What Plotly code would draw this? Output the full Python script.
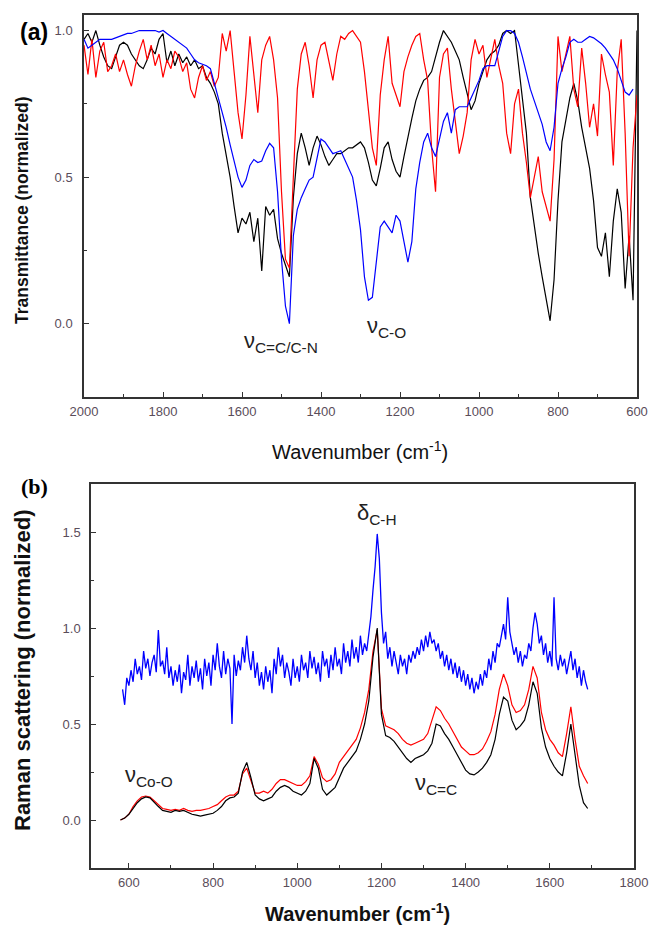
import plotly.graph_objects as go

# ---------------- Panel (a): FTIR, wavenumber grid 2000 -> 600 step 10 ----------------
IR_BLUE = [
    0.97, 0.94, 0.95, 0.96, 0.97, 0.97, 0.97, 0.97, 0.975, 0.98,   # 2000-1910
    0.985, 0.99, 0.99, 0.995, 1.0, 1.0, 1.0, 1.0, 1.0, 0.995,     # 1900-1810
    1.0, 0.99, 0.98, 0.97, 0.96, 0.95, 0.94, 0.92, 0.90, 0.89,    # 1800-1710
    0.885, 0.88, 0.87, 0.82, 0.77, 0.72, 0.67, 0.61, 0.55, 0.50,  # 1700-1610
    0.465, 0.49, 0.54, 0.56, 0.55, 0.555, 0.59, 0.615, 0.60, 0.45,  # 1600-1510
    0.22, 0.06, 0.0, 0.30, 0.39, 0.43, 0.46, 0.49, 0.50, 0.56,    # 1500-1410
    0.63, 0.62, 0.60, 0.58, 0.585, 0.59, 0.56, 0.53, 0.50, 0.42,  # 1400-1310
    0.32, 0.16, 0.08, 0.09, 0.22, 0.33, 0.35, 0.33, 0.31, 0.37,   # 1300-1210
    0.35, 0.28, 0.21, 0.28, 0.46, 0.55, 0.62, 0.65, 0.60, 0.57,   # 1200-1110
    0.63, 0.69, 0.72, 0.65, 0.73, 0.74, 0.74, 0.74, 0.77, 0.80,   # 1100-1010
    0.83, 0.87, 0.88, 0.88, 0.88, 0.93, 0.98, 1.0, 1.0, 0.99,     # 1000-910
    0.96, 0.91, 0.85, 0.80, 0.76, 0.72, 0.68, 0.62, 0.59, 0.67,   # 900-810
    0.82, 0.87, 0.91, 0.96, 0.97, 0.96, 0.96, 0.97, 0.98, 0.975,  # 800-710
    0.965, 0.955, 0.94, 0.92, 0.90, 0.87, 0.83, 0.79, 0.78, 0.80, # 700-610
]
IR_BLACK = [
    0.97, 0.99, 0.96, 1.0, 0.95, 0.91, 0.88, 0.87, 0.91, 0.95,    # 2000-1910
    0.96, 0.95, 0.92, 0.90, 0.88, 0.87, 0.90, 0.94, 0.92, 0.97,   # 1900-1810
    0.99, 0.89, 0.93, 0.88, 0.92, 0.89, 0.91, 0.88, 0.90, 0.87,   # 1800-1710
    0.88, 0.84, 0.82, 0.79, 0.75, 0.65, 0.57, 0.50, 0.40, 0.31,   # 1700-1610
    0.36, 0.34, 0.38, 0.28, 0.36, 0.18, 0.40, 0.37, 0.39, 0.29,   # 1600-1510
    0.24, 0.20, 0.16, 0.43, 0.58, 0.65, 0.60, 0.54, 0.60, 0.64,   # 1500-1410
    0.61, 0.57, 0.54, 0.56, 0.58, 0.58, 0.59, 0.60, 0.60, 0.61,   # 1400-1310
    0.62, 0.60, 0.55, 0.49, 0.47, 0.53, 0.60, 0.62, 0.56, 0.52,   # 1300-1210
    0.50, 0.57, 0.64, 0.70, 0.76, 0.80, 0.83, 0.84, 0.86, 0.91,   # 1200-1110
    0.96, 1.0, 0.98, 0.96, 0.93, 0.90, 0.84, 0.78, 0.73, 0.76,    # 1100-1010
    0.82, 0.86, 0.90, 0.92, 0.93, 0.95, 0.99, 1.0, 0.99, 1.0,     # 1000-910
    0.88, 0.78, 0.65, 0.43, 0.33, 0.24, 0.16, 0.08, 0.01, 0.15,   # 900-810
    0.42, 0.62, 0.70, 0.77, 0.82, 0.76, 0.67, 0.60, 0.53, 0.42,   # 800-710
    0.26, 0.23, 0.31, 0.16, 0.35, 0.46, 0.38, 0.12, 0.30, 0.08,   # 700-610
    1.0,                                                          # 600
]
IR_RED = [
    0.95, 0.85, 0.97, 0.84, 0.93, 0.96, 0.86, 0.88, 0.92, 0.86,   # 2000-1910
    0.90, 0.85, 0.81, 0.88, 0.93, 0.97, 0.90, 0.95, 0.88, 0.92,   # 1900-1810
    0.84, 0.90, 0.87, 0.93, 0.91, 0.86, 0.89, 0.80, 0.77, 0.84,   # 1800-1710
    0.88, 0.83, 0.86, 0.81, 0.84, 0.99, 0.93, 1.0, 0.86, 0.72,    # 1700-1610
    0.63, 0.78, 0.98, 0.85, 0.72, 0.90, 0.95, 0.98, 0.90, 0.77,   # 1600-1510
    0.45, 0.22, 0.19, 0.50, 0.80, 0.92, 0.96, 0.88, 0.77, 0.90,   # 1500-1410
    0.95, 0.96, 0.90, 0.83, 0.92, 0.98, 0.97, 0.99, 1.0, 0.98,    # 1400-1310
    0.96, 0.86, 0.72, 0.60, 0.54, 0.78, 0.90, 0.98, 0.82, 0.78,   # 1300-1210
    0.74, 0.86, 0.91, 0.95, 0.98, 0.99, 0.90, 0.83, 0.60, 0.45,   # 1200-1110
    0.84, 0.92, 0.94, 0.80, 0.68, 0.58, 0.64, 0.72, 0.90, 0.97,   # 1100-1010
    0.92, 0.95, 0.84, 0.90, 0.97, 0.88, 0.82, 0.65, 0.58, 0.75,   # 1000-910
    0.80, 0.65, 0.55, 0.43, 0.50, 0.57, 0.45, 0.40, 0.35, 0.56,   # 900-810
    0.98, 0.86, 0.92, 0.98, 0.80, 0.74, 0.94, 0.82, 0.67, 0.75,   # 800-710
    0.64, 0.92, 0.85, 0.79, 0.54, 0.86, 0.97, 0.65, 0.23, 0.60,   # 700-610
    0.78,                                                         # 600
]
IR_WN_BLUE = [2000 - 10 * i for i in range(len(IR_BLUE))]
IR_WN_BLACK = [2000 - 10 * i for i in range(len(IR_BLACK))]
IR_WN_RED = [2000 - 10 * i for i in range(len(IR_RED))]

# ---------------- Panel (b): Raman, grid 580 -> 1690 step 10 (black/red), 585 -> 1690 step 5 (blue) ----------------
RAMAN_BLACK = [
    0.0, 0.01, 0.03, 0.06, 0.09, 0.11, 0.12, 0.115, 0.09, 0.07,       # 580-670
    0.05, 0.045, 0.04, 0.05, 0.045, 0.05, 0.04, 0.03, 0.025, 0.02,    # 680-770
    0.025, 0.03, 0.035, 0.05, 0.07, 0.10, 0.115, 0.12, 0.14, 0.25,    # 780-870
    0.30, 0.22, 0.13, 0.11, 0.10, 0.11, 0.12, 0.15, 0.17, 0.18,       # 880-970
    0.17, 0.15, 0.14, 0.13, 0.15, 0.19, 0.32, 0.27, 0.16, 0.13,       # 980-1070
    0.15, 0.17, 0.22, 0.27, 0.30, 0.33, 0.36, 0.42, 0.50, 0.62,       # 1080-1170
    0.85, 1.0, 0.55, 0.44, 0.43, 0.41, 0.38, 0.35, 0.32, 0.30,        # 1180-1270
    0.32, 0.33, 0.34, 0.36, 0.40, 0.50, 0.49, 0.45, 0.42, 0.38,       # 1280-1370
    0.34, 0.30, 0.26, 0.24, 0.235, 0.25, 0.27, 0.30, 0.34, 0.42,      # 1380-1470
    0.55, 0.64, 0.62, 0.52, 0.47, 0.49, 0.52, 0.60, 0.72, 0.66,       # 1480-1570
    0.48, 0.38, 0.32, 0.28, 0.25, 0.23, 0.35, 0.50, 0.35, 0.18,       # 1580-1670
    0.09, 0.06,                                                       # 1680-1690
]
RAMAN_RED = [
    0.0, 0.01, 0.03, 0.07, 0.10, 0.12, 0.125, 0.12, 0.10, 0.08,       # 580-670
    0.06, 0.055, 0.05, 0.055, 0.05, 0.06, 0.05, 0.045, 0.05, 0.05,    # 680-770
    0.055, 0.06, 0.07, 0.08, 0.10, 0.12, 0.13, 0.13, 0.15, 0.24,      # 780-870
    0.27, 0.20, 0.14, 0.14, 0.15, 0.14, 0.16, 0.19, 0.21, 0.21,       # 880-970
    0.20, 0.19, 0.18, 0.18, 0.20, 0.23, 0.33, 0.29, 0.22, 0.20,       # 980-1070
    0.21, 0.24, 0.30, 0.33, 0.36, 0.39, 0.42, 0.48, 0.56, 0.68,       # 1080-1170
    0.88, 0.99, 0.58, 0.49, 0.48, 0.47, 0.45, 0.42, 0.40, 0.39,       # 1180-1270
    0.40, 0.41, 0.42, 0.45, 0.52, 0.59, 0.57, 0.53, 0.50, 0.46,       # 1280-1370
    0.42, 0.38, 0.36, 0.34, 0.34, 0.35, 0.37, 0.41, 0.46, 0.55,       # 1380-1470
    0.68, 0.76, 0.70, 0.60, 0.56, 0.57, 0.60, 0.68, 0.80, 0.74,       # 1480-1570
    0.56, 0.47, 0.42, 0.39, 0.35, 0.33, 0.45, 0.59, 0.42, 0.28,       # 1580-1670
    0.23, 0.19,                                                       # 1680-1690
]
RAMAN_BLUE = [
    0.68, 0.60, 0.74, 0.70, 0.78, 0.72, 0.84, 0.76, 0.80, 0.73, 0.88, 0.79, 0.84, 0.75, 0.82, 0.86, 0.77, 0.99, 0.80, 0.83,  # 585-680
    0.76, 0.90, 0.74, 0.80, 0.70, 0.78, 0.72, 0.81, 0.66, 0.77, 0.73, 0.86, 0.70, 0.80, 0.74, 0.83, 0.72, 0.79, 0.68, 0.84,  # 685-780
    0.75, 0.82, 0.70, 0.86, 0.78, 0.92, 0.80, 0.74, 0.88, 0.76, 0.84, 0.79, 0.50, 0.86, 0.75, 0.83, 0.78, 0.90, 0.82, 0.96,  # 785-880
    0.84, 0.78, 0.88, 0.74, 0.82, 0.70, 0.77, 0.68, 0.80, 0.72, 0.78, 0.66, 0.84, 0.76, 0.90, 0.80, 0.86, 0.74, 0.82, 0.77,  # 885-980
    0.70, 0.84, 0.74, 0.80, 0.72, 0.86, 0.78, 0.82, 0.74, 0.88, 0.79, 0.85, 0.76, 0.82, 0.72, 0.88, 0.80, 0.84, 0.74, 0.86,  # 985-1080
    0.78, 0.90, 0.80, 0.84, 0.76, 0.92, 0.82, 0.88, 0.80, 0.94, 0.84, 0.90, 0.82, 0.96, 0.86, 0.92, 0.88, 0.98, 1.06, 1.20,  # 1085-1180
    1.32, 1.49, 1.36, 1.08, 0.92, 0.98, 0.84, 0.90, 0.80, 0.88, 0.82, 0.76, 0.86, 0.80, 0.84, 0.76, 0.86, 0.82, 0.88, 0.84,  # 1185-1280
    0.90, 0.86, 0.94, 0.88, 0.96, 0.90, 0.98, 0.92, 0.94, 0.88, 0.92, 0.84, 0.88, 0.80, 0.86, 0.78, 0.84, 0.76, 0.82, 0.74,  # 1285-1380
    0.80, 0.72, 0.78, 0.70, 0.76, 0.68, 0.74, 0.66, 0.72, 0.68, 0.76, 0.70, 0.78, 0.74, 0.84, 0.78, 0.88, 0.82, 0.92, 0.90,  # 1385-1480
    0.96, 1.02, 0.94, 1.16, 0.98, 0.92, 0.86, 0.90, 0.82, 0.88, 0.80, 0.86, 0.84, 0.92, 0.88, 1.00, 1.08, 1.02, 0.92, 0.96,  # 1485-1580
    0.86, 0.92, 0.82, 0.88, 0.80, 1.16, 0.84, 0.78, 0.86, 0.80, 0.84, 0.76, 0.82, 0.88, 0.78, 0.84, 0.74, 0.80, 0.70, 0.78,  # 1585-1680
    0.72, 0.68,                                                                                                              # 1685-1690
]
RAMAN_WN_BLACK = [580 + 10 * i for i in range(len(RAMAN_BLACK))]
RAMAN_WN_RED = [580 + 10 * i for i in range(len(RAMAN_RED))]
RAMAN_WN_BLUE = [585 + 5 * i for i in range(len(RAMAN_BLUE))]

IR_XTICKS = [2000, 1800, 1600, 1400, 1200, 1000, 800, 600]
IR_YTICKS = [0.0, 0.5, 1.0]
RAMAN_XTICKS = [600, 800, 1000, 1200, 1400, 1600, 1800]
RAMAN_YTICKS = [0.0, 0.5, 1.0, 1.5]

W, H = 651, 930
SANS = "Liberation Sans, Arial, sans-serif"
SERIF = "Liberation Serif, Times New Roman, serif"
TICKC = "#5a4d5a"
LINEC = "#333333"

fig = go.Figure()
LW = 1.2
fig.add_trace(go.Scatter(x=IR_WN_BLACK, y=IR_BLACK, mode="lines", line=dict(color="black", width=LW), xaxis="x", yaxis="y"))
fig.add_trace(go.Scatter(x=IR_WN_RED, y=IR_RED, mode="lines", line=dict(color="red", width=LW), xaxis="x", yaxis="y"))
fig.add_trace(go.Scatter(x=IR_WN_BLUE, y=IR_BLUE, mode="lines", line=dict(color="blue", width=LW), xaxis="x", yaxis="y"))

fig.add_trace(go.Scatter(x=RAMAN_WN_BLUE, y=RAMAN_BLUE, mode="lines", line=dict(color="blue", width=1.3), xaxis="x2", yaxis="y2"))
fig.add_trace(go.Scatter(x=RAMAN_WN_RED, y=RAMAN_RED, mode="lines", line=dict(color="red", width=LW), xaxis="x2", yaxis="y2"))
fig.add_trace(go.Scatter(x=RAMAN_WN_BLACK, y=RAMAN_BLACK, mode="lines", line=dict(color="black", width=LW), xaxis="x2", yaxis="y2"))


def px(xp):
    return xp / W


def py(yp):
    return 1 - yp / H


axis_common = dict(showline=True, mirror=True, linecolor=LINEC, linewidth=1.5, showgrid=False,
                   zeroline=False, ticks="inside", ticklen=5, tickwidth=1.2, tickcolor=LINEC,
                   automargin=False,
                   tickfont=dict(family=SANS, size=13, color=TICKC))

fig.update_layout(
    width=W, height=H, margin=dict(l=0, r=0, t=0, b=0, pad=0, autoexpand=False),
    paper_bgcolor="white", plot_bgcolor="white", showlegend=False,
    xaxis=dict(domain=[px(84), px(637)], anchor="y", range=[2000, 600], tickvals=IR_XTICKS,
               minor=dict(ticks="inside", ticklen=3, tickcolor=LINEC, dtick=100, tick0=0),
               ticklabelstandoff=2, **axis_common),
    yaxis=dict(domain=[py(397), py(15)], anchor="x", range=[-0.25, 1.053], tickvals=IR_YTICKS,
               tickformat=".1f",
               minor=dict(ticks="inside", ticklen=3, tickcolor=LINEC, dtick=0.25, tick0=0),
               ticklabelstandoff=7, **axis_common),
    xaxis2=dict(domain=[px(91), px(634)], anchor="y2", range=[510, 1800], tickvals=RAMAN_XTICKS,
                minor=dict(ticks="inside", ticklen=3, tickcolor=LINEC, dtick=100, tick0=0),
                ticklabelstandoff=2, **axis_common),
    yaxis2=dict(domain=[py(868), py(484)], anchor="x2", range=[-0.25, 1.75], tickvals=RAMAN_YTICKS,
                tickformat=".1f",
                minor=dict(ticks="inside", ticklen=3, tickcolor=LINEC, dtick=0.25, tick0=0),
                ticklabelstandoff=6, **axis_common),
)

ann = []
def add_text(text, x, y, size, family=SANS, bold=False, angle=0, color="#111", xanchor="center", yanchor="middle"):
    t = f"<b>{text}</b>" if bold else text
    ann.append(dict(text=t, x=px(x), y=py(y), xref="paper", yref="paper", showarrow=False,
                    font=dict(family=family, size=size, color=color), textangle=angle,
                    xanchor=xanchor, yanchor=yanchor))

# panel labels
add_text("(a)", 34, 32, 23, bold=True, color="#000")
add_text("(b)", 34, 486, 22, family=SERIF, bold=True, color="#000")

# axis titles
add_text("Transmittance (normalized)", 22, 210, 17.5, bold=True, angle=-90, color="#111")
add_text("Wavenumber (cm<sup>-1</sup>)", 360, 450, 20, color="#111")
add_text("Raman scattering (normalized)", 22, 670, 22, bold=True, angle=-90, color="#111")
add_text("Wavenumber (cm<sup>-1</sup>)", 357, 912, 20, bold=True, color="#111")

# band annotations
ANN_C = "#222"
add_text("ν<sub>C=C/C-N</sub>", 242, 342, 22, color=ANN_C, xanchor="left")
add_text("ν<sub>C-O</sub>", 365, 327, 22, color=ANN_C, xanchor="left")
add_text("δ<sub>C-H</sub>", 355, 514, 22, color=ANN_C, xanchor="left")
add_text("ν<sub>Co-O</sub>", 123, 776, 22, color=ANN_C, xanchor="left")
add_text("ν<sub>C=C</sub>", 413, 784, 22, color=ANN_C, xanchor="left")

fig.update_layout(annotations=ann)
fig.write_html("out.html", config={"displayModeBar": False},
               post_script="document.body.style.margin='0';document.body.style.padding='0';document.body.style.overflow='hidden';")
